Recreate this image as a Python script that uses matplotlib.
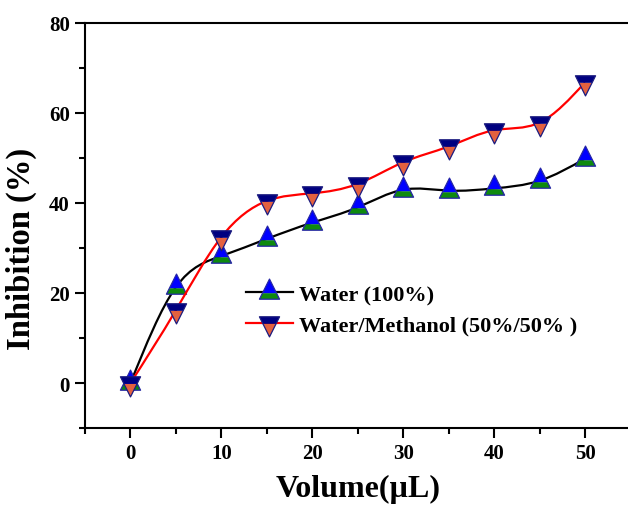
import numpy as np
import matplotlib
matplotlib.use("Agg")
import matplotlib.pyplot as plt
from matplotlib.path import Path
from matplotlib.patches import PathPatch
from matplotlib.lines import Line2D
from matplotlib.ticker import MultipleLocator

# data
volume = [0, 5, 10, 15, 20, 25, 30, 35, 40, 45, 50]
water = [0.0, 21.3, 28.2, 32.0, 35.6, 39.0, 42.9, 42.7, 43.2, 44.9, 49.8]
water_methanol = [0.0, 16.2, 32.4, 40.4, 42.1, 44.2, 49.0, 52.5, 56.1, 57.8, 66.7]
labels = ["Water (100%)", "Water/Methanol (50%/50% )"]

plt.rcParams['font.family'] = ['Liberation Serif', 'DejaVu Serif']
plt.rcParams['font.weight'] = 'bold'


def spline_path(x, y):
    # natural cubic spline through the points, written as Bezier segments
    x = np.asarray(x, float)
    y = np.asarray(y, float)
    n = len(x)
    h = np.diff(x)
    A = np.zeros((n, n))
    b = np.zeros(n)
    A[0, 0] = A[-1, -1] = 1
    for i in range(1, n - 1):
        A[i, i - 1] = h[i - 1]
        A[i, i] = 2 * (h[i - 1] + h[i])
        A[i, i + 1] = h[i]
        b[i] = 6 * ((y[i + 1] - y[i]) / h[i] - (y[i] - y[i - 1]) / h[i - 1])
    M = np.linalg.solve(A, b)
    slope = np.zeros(n)
    for i in range(n - 1):
        slope[i] = (y[i + 1] - y[i]) / h[i] - h[i] * (2 * M[i] + M[i + 1]) / 6
    slope[-1] = (y[-1] - y[-2]) / h[-1] + h[-1] * (M[-2] + 2 * M[-1]) / 6
    verts = [(x[0], y[0])]
    codes = [Path.MOVETO]
    for i in range(n - 1):
        d = h[i] / 3
        verts += [(x[i] + d, y[i] + d * slope[i]),
                  (x[i + 1] - d, y[i + 1] - d * slope[i + 1]),
                  (x[i + 1], y[i + 1])]
        codes += [Path.CURVE4] * 3
    return Path(verts, codes)


# two-tone triangle markers, anchored at the centroid like Origin
R = 4 / 3


def poly(pts, sign):
    # leading lone MOVETO keeps the same scale for every piece
    v = [(0, sign * R)] + list(pts) + [pts[0]]
    c = [Path.MOVETO, Path.MOVETO] + [Path.LINETO] * (len(pts) - 1) + [Path.CLOSEPOLY]
    return Path(v, c)


def up_parts(frac=0.7):
    # apex at (0, 4/3), base at y=-2/3, half width 1
    s = R - 2 * frac
    w = (R - s) / 2
    full = poly([(0, R), (-1, -2 / 3), (1, -2 / 3)], 1)
    top = poly([(0, R), (-w, s), (w, s)], 1)
    bot = poly([(-w, s), (-1, -2 / 3), (1, -2 / 3), (w, s)], 1)
    return full, top, bot


def down_parts(frac=0.35):
    s = 2 / 3 - 2 * frac
    w = (s + R) / 2
    full = poly([(-1, 2 / 3), (1, 2 / 3), (0, -R)], -1)
    top = poly([(-1, 2 / 3), (1, 2 / 3), (w, s), (-w, s)], -1)
    bot = poly([(-w, s), (w, s), (0, -R)], -1)
    return full, top, bot


ms = 14.5 * R
up_full, up_top, up_bot = up_parts()
dn_full, dn_top, dn_bot = down_parts()

series = [
    dict(y=water, line='black', full=up_full, top=up_top, bot=up_bot,
         ctop='#0000FF', cbot='#0E8A0E', edge='#2626A6'),
    dict(y=water_methanol, line='#FF0000', full=dn_full, top=dn_top, bot=dn_bot,
         ctop='#000080', cbot='#E4613F', edge='#1C1C80'),
]

fig = plt.figure(figsize=(6.28, 5.10), dpi=100)
ax = fig.add_axes([0.1354, 0.1586, 0.8686, 0.7953])

handles = []
for k, s in enumerate(series):
    z = 3 + 3 * k
    ax.add_patch(PathPatch(spline_path(volume, s['y']), fill=False,
                           edgecolor=s['line'], lw=1.6, zorder=z))
    m_bot, = ax.plot(volume, s['y'], ls='none', marker=s['bot'], ms=ms,
                     mfc=s['cbot'], mew=0, zorder=z + 1)
    m_top, = ax.plot(volume, s['y'], ls='none', marker=s['top'], ms=ms,
                     mfc=s['ctop'], mew=0, zorder=z + 1)
    m_edge, = ax.plot(volume, s['y'], ls='none', marker=s['full'], ms=ms,
                      mfc='none', mec=s['edge'], mew=0.9, zorder=z + 2)
    ln = Line2D([], [], color=s['line'], lw=1.6)
    handles.append((ln, m_bot, m_top, m_edge))

ax.set_xlim(-5, 55)
ax.set_ylim(-10, 80)
ax.xaxis.set_major_locator(MultipleLocator(10))
ax.xaxis.set_minor_locator(MultipleLocator(5))
ax.yaxis.set_major_locator(MultipleLocator(20))
ax.yaxis.set_minor_locator(MultipleLocator(10))
ax.tick_params(which='major', direction='out', length=7, width=1.5,
               labelsize=15, pad=4)
ax.tick_params(which='minor', direction='out', length=4, width=1.5)
for sp in ax.spines.values():
    sp.set_linewidth(1.5)
for lab in ax.get_xticklabels() + ax.get_yticklabels():
    lab.set_fontweight('bold')

ax.set_xlabel('Volume(µL)', fontsize=23, fontweight='bold')
ax.set_ylabel('Inhibition (%)', fontsize=23.5, fontweight='bold')
ax.xaxis.set_label_coords(0.5, -0.113)
ax.yaxis.set_label_coords(-0.088, 0.444)

ax.legend(handles, labels, loc='center left', bbox_to_anchor=(0.295, 0.291),
          frameon=False, handlelength=2.1, handletextpad=0.3,
          labelspacing=0.45, borderpad=0, borderaxespad=0, numpoints=1,
          prop={'weight': 'bold', 'size': 16})

fig.savefig('out.png', dpi=100)
